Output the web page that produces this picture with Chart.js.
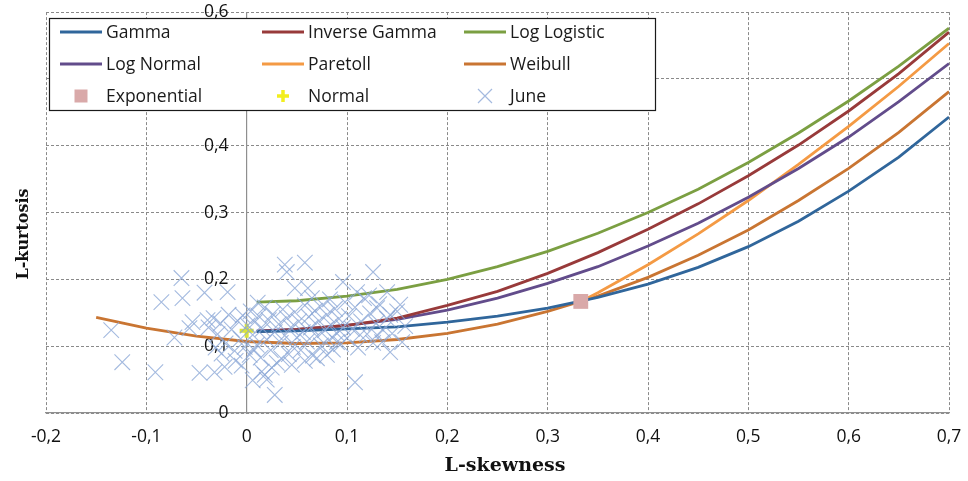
<!DOCTYPE html>
<html>
<head>
<meta charset="utf-8">
<script src="https://cdn.jsdelivr.net/npm/chart.js@4/dist/chart.umd.min.js"></script>
<style>
  html, body { margin: 0; padding: 0; background: #ffffff; }
  #wrap { width: 968px; height: 481px; position: relative; }
</style>
</head>
<body>
<div id="wrap"><canvas id="chart"></canvas></div>
<script>
// Axis titles and tick labels
const skewTitle = 'L-skewness';
const kurtTitle = 'L-kurtosis';
const skewTickLabels = ['-0,2', '-0,1', '0', '0,1', '0,2', '0,3', '0,4', '0,5', '0,6', '0,7'];
const kurtTickLabels = ['0', '0,1', '0,2', '0,3', '0,4', '0,5', '0,6'];

// Theoretical L-moment ratio curves (L-skewness, L-kurtosis)
const curveSkew = [0.01, 0.05, 0.1, 0.15, 0.2, 0.25, 0.3, 0.35, 0.4, 0.45, 0.5, 0.55, 0.6, 0.65, 0.7];
const gammaKurt       = [0.122, 0.123, 0.126, 0.129, 0.136, 0.145, 0.157, 0.173, 0.193, 0.218, 0.249, 0.287, 0.332, 0.383, 0.443];
const invGammaKurt    = [0.122, 0.125, 0.131, 0.142, 0.161, 0.182, 0.209, 0.240, 0.275, 0.313, 0.355, 0.401, 0.452, 0.508, 0.570];
const logLogisticKurt = [0.166, 0.168, 0.175, 0.185, 0.200, 0.219, 0.242, 0.269, 0.300, 0.335, 0.375, 0.419, 0.467, 0.519, 0.576];
const logNormalKurt   = [0.123, 0.125, 0.131, 0.140, 0.154, 0.172, 0.194, 0.219, 0.250, 0.284, 0.323, 0.366, 0.413, 0.466, 0.523];

const paretoSkew = [0.333, 0.35, 0.4, 0.45, 0.5, 0.55, 0.6, 0.65, 0.7];
const paretoKurt = [0.167, 0.180, 0.222, 0.268, 0.318, 0.372, 0.429, 0.489, 0.553];

const weibullSkew = [-0.15, -0.1, -0.05, 0, 0.05, 0.1, 0.15, 0.2, 0.25, 0.3, 0.35, 0.4, 0.45, 0.5, 0.55, 0.6, 0.65, 0.7];
const weibullKurt = [0.143, 0.127, 0.115, 0.107, 0.104, 0.105, 0.110, 0.119, 0.133, 0.152, 0.175, 0.203, 0.236, 0.274, 0.318, 0.366, 0.420, 0.481];

// Two-parameter distributions: single points
const exponentialSkew = [0.333];
const exponentialKurt = [0.167];
const normalSkew = [0];
const normalKurt = [0.123];

// Sample L-moment ratios of the June series
const juneSkew = [
  -0.135, -0.124, -0.091, -0.085, -0.064, -0.065, -0.072, -0.057, -0.054, -0.047, -0.042, -0.039, -0.032,
  -0.022, -0.019, 0.028, 0.006, 0.018, 0.011, 0.038, 0.040, 0.058, 0.048, 0.061, 0.126, 0.096, 0.110,
  0.140, 0.130, 0.143, 0.153, 0.108, 0.143, 0.155, 0.135, 0.080, 0.090, 0.113, 0.130,
  -0.038, -0.033, -0.029, -0.026, -0.021, -0.018, -0.015, -0.012, -0.009, -0.006, -0.004, -0.002, 0.001,
  0.003, -0.025, -0.031, -0.011, -0.005,
  0.004, 0.006, 0.008, 0.010, 0.012, 0.014, 0.016, 0.018, 0.020, 0.022, 0.024, 0.026, 0.028, 0.030,
  0.032, 0.034, 0.036, 0.038, 0.040, 0.042, 0.044, 0.046, 0.048, 0.050, 0.015, 0.025, 0.035, 0.045,
  0.020, 0.007,
  0.052, 0.054, 0.056, 0.058, 0.060, 0.062, 0.064, 0.066, 0.068, 0.070, 0.072, 0.074, 0.076, 0.078,
  0.080, 0.082, 0.084, 0.086, 0.088, 0.090, 0.092, 0.094, 0.096, 0.098, 0.100, 0.058, 0.070, 0.083, 0.065,
  0.102, 0.105, 0.108, 0.111, 0.114, 0.117, 0.120, 0.123, 0.126, 0.129, 0.132, 0.136, 0.140, 0.145,
  0.150, 0.158, 0.122
];
const juneKurt = [
  0.124, 0.076, 0.061, 0.166, 0.172, 0.202, 0.113, 0.127, 0.136, 0.060, 0.180, 0.139, 0.061,
  0.069, 0.181, 0.027, 0.049, 0.057, 0.165, 0.222, 0.211, 0.225, 0.187, 0.187, 0.211, 0.196, 0.181,
  0.181, 0.157, 0.147, 0.162, 0.046, 0.091, 0.106, 0.106, 0.087, 0.106, 0.117, 0.117,
  0.128, 0.142, 0.118, 0.134, 0.104, 0.147, 0.125, 0.093, 0.138, 0.111, 0.146, 0.099, 0.131,
  0.087, 0.089, 0.098, 0.078, 0.071,
  0.152, 0.117, 0.136, 0.102, 0.145, 0.083, 0.126, 0.158, 0.110, 0.139, 0.094, 0.148, 0.121, 0.075,
  0.133, 0.105, 0.155, 0.116, 0.142, 0.088, 0.128, 0.099, 0.151, 0.113, 0.062, 0.068, 0.081, 0.072,
  0.050, 0.095,
  0.137, 0.094, 0.121, 0.161, 0.107, 0.144, 0.128, 0.086, 0.153, 0.115, 0.138, 0.101, 0.162, 0.124,
  0.147, 0.109, 0.132, 0.095, 0.156, 0.119, 0.141, 0.103, 0.128, 0.166, 0.112, 0.078, 0.082, 0.170, 0.172,
  0.145, 0.126, 0.158, 0.098, 0.137, 0.172, 0.118, 0.149, 0.105, 0.134, 0.163, 0.124, 0.141, 0.119,
  0.152, 0.130, 0.176
];

const toPoints = (xs, ys) => xs.map((x, i) => ({ x: x, y: ys[i] }));

const tickFont = { family: '"Open Sans", "Liberation Sans", sans-serif', size: 17.5 };
const gridColor = '#8a8a8a';
const axisColor = '#8f8f8f';
// Gap between the value labels and the vertical axis line at x = 0
const kurtLabelGap = '    ';

function curve(label, xs, ys, color) {
  return {
    label: label,
    data: toPoints(xs, ys),
    showLine: true,
    borderColor: color,
    backgroundColor: color,
    borderWidth: 2.8,
    pointRadius: 0,
    tension: 0,
    order: 1,
    kind: 'line'
  };
}

const datasets = [
  curve('Gamma', curveSkew, gammaKurt, '#30669b'),
  curve('Inverse Gamma', curveSkew, invGammaKurt, '#983a3a'),
  curve('Log Logistic', curveSkew, logLogisticKurt, '#7b9f42'),
  curve('Log Normal', curveSkew, logNormalKurt, '#624c8b'),
  curve('Paretoll', paretoSkew, paretoKurt, '#f49a44'),
  curve('Weibull', weibullSkew, weibullKurt, '#c97532'),
  {
    label: 'Exponential',
    data: toPoints(exponentialSkew, exponentialKurt),
    pointStyle: 'rect',
    pointRadius: 10.5,
    backgroundColor: '#d9a9a9',
    borderColor: '#d9a9a9',
    borderWidth: 0,
    order: -1,
    kind: 'square'
  },
  {
    label: 'Normal',
    data: toPoints(normalSkew, normalKurt),
    pointStyle: 'cross',
    pointRadius: 7,
    borderWidth: 4,
    borderColor: '#d9e33a',
    backgroundColor: '#d9e33a',
    order: 1,
    kind: 'plus'
  },
  {
    label: 'June',
    data: toPoints(juneSkew, juneKurt),
    pointStyle: 'crossRot',
    pointRadius: 11,
    borderWidth: 1.1,
    borderColor: 'rgba(138,166,214,0.78)',
    backgroundColor: 'rgba(138,166,214,0.78)',
    order: 0,
    kind: 'x'
  }
];

// Axis titles plus the framed three-column legend
const overlayPlugin = {
  id: 'overlay',
  afterDraw(chart) {
    const ctx = chart.ctx;

    ctx.save();
    ctx.font = 'bold 19px "DejaVu Serif", serif';
    ctx.fillStyle = '#111111';
    ctx.textAlign = 'center';
    ctx.textBaseline = 'middle';
    ctx.fillText(skewTitle, 505, 466);
    ctx.translate(24, 234);
    ctx.rotate(-Math.PI / 2);
    ctx.font = 'bold 16px "DejaVu Serif", serif';
    ctx.fillText(kurtTitle, 0, 0);
    ctx.restore();

    const box = { x: 49.5, y: 18.5, w: 606, h: 92 };
    ctx.save();
    ctx.fillStyle = '#ffffff';
    ctx.fillRect(box.x, box.y, box.w, box.h);
    ctx.strokeStyle = '#1a1a1a';
    ctx.lineWidth = 1.2;
    ctx.strokeRect(box.x, box.y, box.w, box.h);

    const colX = [60, 262, 464];
    const rowY = [32, 64, 96];
    const sampleW = 42;
    ctx.font = '17.5px "Open Sans", "Liberation Sans", sans-serif';
    ctx.textBaseline = 'middle';
    chart.data.datasets.forEach((ds, i) => {
      const x0 = colX[i % 3];
      const y0 = rowY[Math.floor(i / 3)];
      const cx = x0 + sampleW / 2;
      ctx.save();
      if (ds.kind === 'line') {
        ctx.strokeStyle = ds.borderColor;
        ctx.lineWidth = 3;
        ctx.beginPath();
        ctx.moveTo(x0, y0);
        ctx.lineTo(x0 + sampleW, y0);
        ctx.stroke();
      } else if (ds.kind === 'square') {
        ctx.fillStyle = ds.backgroundColor;
        ctx.fillRect(cx - 6.5, y0 - 6.5, 13, 13);
      } else if (ds.kind === 'plus') {
        ctx.strokeStyle = '#f2ee1e';
        ctx.lineWidth = 3.5;
        ctx.beginPath();
        ctx.moveTo(cx - 6, y0); ctx.lineTo(cx + 6, y0);
        ctx.moveTo(cx, y0 - 6); ctx.lineTo(cx, y0 + 6);
        ctx.stroke();
      } else if (ds.kind === 'x') {
        ctx.strokeStyle = ds.borderColor;
        ctx.lineWidth = 1.2;
        ctx.beginPath();
        ctx.moveTo(cx - 7, y0 - 7); ctx.lineTo(cx + 7, y0 + 7);
        ctx.moveTo(cx - 7, y0 + 7); ctx.lineTo(cx + 7, y0 - 7);
        ctx.stroke();
      }
      ctx.restore();
      ctx.fillStyle = '#1a1a1a';
      ctx.textAlign = 'left';
      ctx.fillText(ds.label, x0 + sampleW + 4, y0 + 1);
    });
    ctx.restore();
  }
};

new Chart(document.getElementById('chart'), {
  type: 'scatter',
  data: { datasets: datasets },
  options: {
    responsive: true,
    maintainAspectRatio: false,
    devicePixelRatio: 1,
    animation: false,
    events: [],
    layout: { padding: { left: 46, right: 19, top: 12, bottom: 0 } },
    plugins: {
      legend: { display: false },
      tooltip: { enabled: false }
    },
    scales: {
      x: {
        type: 'linear',
        position: 'bottom',
        min: -0.2,
        max: 0.7,
        afterFit(scale) {
          scale.height = 68;
          scale.paddingLeft = 0;
          scale.paddingRight = 0;
        },
        ticks: {
          stepSize: 0.1,
          padding: 14,
          color: '#111111',
          font: tickFont,
          callback: (v, i) => skewTickLabels[i]
        },
        grid: { color: gridColor, lineWidth: 1, drawTicks: false },
        border: { display: true, color: axisColor, width: 1.2, dash: [3, 2] },
        title: { display: false }
      },
      y: {
        type: 'linear',
        position: { x: 0 },
        min: 0,
        max: 0.6,
        afterFit(scale) {
          scale.paddingTop = 0;
          scale.paddingBottom = 0;
        },
        ticks: {
          stepSize: 0.1,
          padding: 0,
          color: '#111111',
          font: tickFont,
          callback: (v, i) => kurtTickLabels[i] + kurtLabelGap
        },
        grid: { color: gridColor, lineWidth: 1, drawTicks: false },
        border: { display: true, color: axisColor, width: 1.2, dash: [3, 2] }
      }
    }
  },
  plugins: [overlayPlugin]
});
</script>
</body>
</html>
